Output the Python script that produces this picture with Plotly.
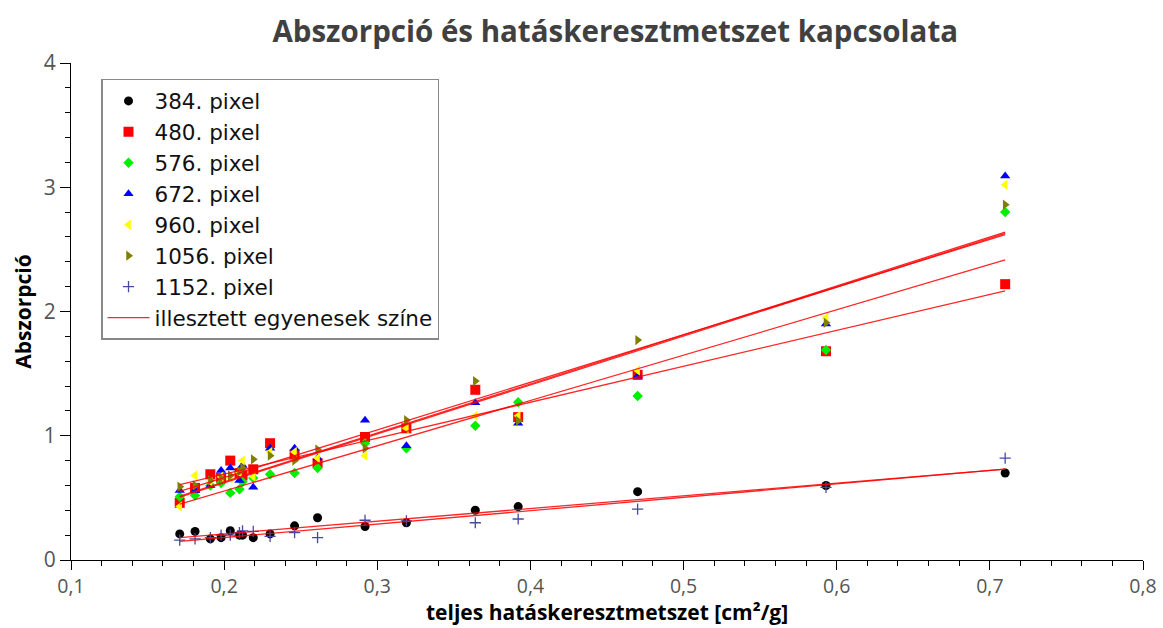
import numpy as np
import plotly.graph_objects as go

# cross-section values (x)
x_vals = [0.171, 0.181, 0.191, 0.198, 0.204, 0.210, 0.212, 0.219, 0.230, 0.246,
          0.261, 0.292, 0.319, 0.364, 0.392, 0.470, 0.593, 0.710]

s384 = [0.21, 0.23, 0.17, 0.18, 0.235, 0.20, 0.20, 0.18, 0.21, 0.275,
        0.34, 0.27, 0.30, 0.40, 0.43, 0.55, 0.60, 0.70]
s480 = [0.46, 0.58, 0.69, 0.66, 0.80, 0.70, 0.68, 0.73, 0.94, 0.85,
        0.78, 0.99, 1.06, 1.37, 1.15, 1.49, 1.68, 2.22]
s576 = [0.51, 0.52, 0.60, 0.62, 0.54, 0.57, 0.63, 0.66, 0.69, 0.70,
        0.74, 0.94, 0.90, 1.08, 1.27, 1.32, 1.69, 2.80]
s672 = [0.56, 0.56, 0.60, 0.72, 0.74, 0.64, 0.76, 0.585, 0.90, 0.90,
        0.82, 1.125, 0.92, 1.265, 1.10, 1.48, 1.90, 3.09]
s960 = [0.43, 0.68, 0.63, 0.67, 0.66, 0.70, 0.80, 0.67, 0.87, 0.87,
        0.82, 0.84, 1.06, 1.16, 1.16, 1.525, 1.95, 3.02]
s1056 = [0.59, 0.60, 0.64, 0.66, 0.68, 0.71, 0.74, 0.81, 0.84, 0.80,
         0.89, 0.90, 1.125, 1.44, 1.12, 1.77, 1.91, 2.86]
s1152 = [0.16, 0.17, 0.18, 0.20, 0.20, 0.22, 0.235, 0.23, 0.19, 0.22,
         0.18, 0.32, 0.315, 0.30, 0.33, 0.41, 0.585, 0.82]

series_names = ["384. pixel", "480. pixel", "576. pixel", "672. pixel",
                "960. pixel", "1056. pixel", "1152. pixel"]
series_values = [s384, s480, s576, s672, s960, s1056, s1152]
symbols = ["circle", "square", "diamond", "triangle-up", "triangle-left",
           "triangle-right", "cross-thin"]
colors = ["#000000", "#ff0000", "#00ee00", "#0000ff", "#ffff00", "#808000", "#4848a0"]
sizes = [9, 10, 8, 9, 9, 9, 8]

fig = go.Figure()
for name, vals, sym, col, sz in zip(series_names, series_values, symbols, colors, sizes):
    marker = dict(symbol=sym, color=col, size=sz)
    if sym == "cross-thin":
        marker["line"] = dict(color=col, width=1.3)
    else:
        marker["line"] = dict(width=0)
    fig.add_trace(go.Scatter(x=x_vals, y=vals, mode="markers", name=name, marker=marker))

xa = np.array(x_vals)
xfit = np.array([min(x_vals), max(x_vals)])
for i, vals in enumerate(series_values):
    m, b = np.polyfit(xa, np.array(vals), 1)
    fig.add_trace(go.Scatter(
        x=xfit, y=m * xfit + b, mode="lines",
        line=dict(color="rgba(255,0,0,0.85)", width=1.3),
        name="illesztett egyenesek színe", showlegend=(i == 0)))

fig.update_layout(
    width=1163, height=628,
    margin=dict(l=71, r=20, t=63, b=68),
    paper_bgcolor="white", plot_bgcolor="white",
    separators=", ",
    font=dict(family="Open Sans, DejaVu Sans, sans-serif", color="#444444"),
    title=dict(text="<b>Abszorpció és hatáskeresztmetszet kapcsolata</b>",
               x=0.529, xanchor="center", y=0.95, yanchor="middle",
               font=dict(size=29.5, color="#404040")),
    showlegend=True,
    legend=dict(x=0.028, y=0.968, xanchor="left", yanchor="top",
                bgcolor="white", bordercolor="#888888", borderwidth=1.5,
                font=dict(family="DejaVu Sans, sans-serif", size=21.5, color="#111111"),
                tracegroupgap=0, itemsizing="trace", itemwidth=42),
    annotations=[dict(
        text="<b>teljes hatáskeresztmetszet [cm²/g]</b>",
        xref="paper", yref="paper", x=0.5, y=0, xanchor="center", yanchor="middle",
        yshift=-52, showarrow=False, font=dict(size=21, color="#000000"))],
)
fig.update_xaxes(
    range=[0.1, 0.8], dtick=0.1, tick0=0.1, tickformat=".1f",
    showline=True, linecolor="black", linewidth=1, mirror=False,
    showgrid=False, zeroline=False, automargin=False,
    ticks="outside", ticklen=9, tickcolor="black", tickwidth=1,
    minor=dict(dtick=0.02, ticks="outside", ticklen=5, tickcolor="black", showgrid=False),
    tickfont=dict(size=19.5, color="#555555"),
)
fig.update_yaxes(
    range=[0, 4], dtick=1,
    showline=True, linecolor="black", linewidth=1, mirror=False,
    showgrid=False, zeroline=False, automargin=False,
    ticks="outside", ticklen=10, tickcolor="black", tickwidth=1,
    minor=dict(dtick=0.2, ticks="outside", ticklen=5, tickcolor="black", showgrid=False),
    tickfont=dict(size=21, color="#555555"),
    title=dict(text="<b>Abszorpció</b>", font=dict(size=21, color="#000000"), standoff=6),
)

fig.write_html("out.html")
